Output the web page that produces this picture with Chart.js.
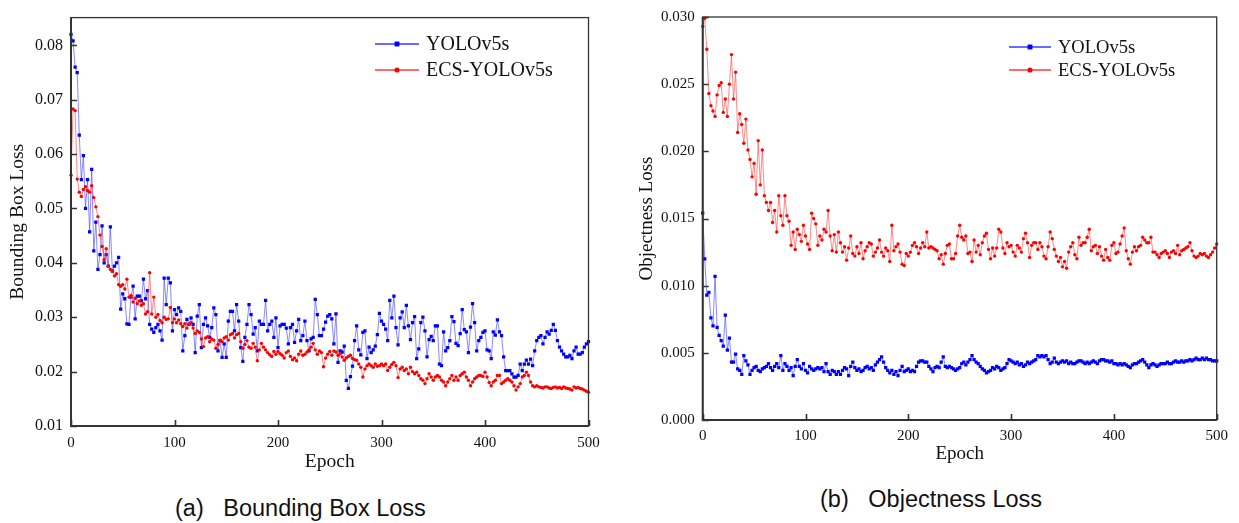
<!DOCTYPE html>
<html>
<head>
<meta charset="utf-8">
<script src="https://cdn.jsdelivr.net/npm/chart.js@4.4.1/dist/chart.umd.min.js"></script>
<style>
html,body{margin:0;padding:0;background:#fff;width:1239px;height:523px;overflow:hidden;}
.wrap{position:absolute;top:0;}
.cap{position:absolute;font-family:"Liberation Sans",Arial,sans-serif;font-size:23.5px;color:#111;white-space:pre;line-height:1;}
</style>
</head>
<body>
<div class="wrap" style="left:0;width:620px;height:475px"><canvas id="ca" width="620" height="475"></canvas></div>
<div class="wrap" style="left:620px;width:619px;height:475px"><canvas id="cb" width="619" height="475"></canvas></div>
<div class="cap" style="left:175px;top:497px">(a)   Bounding Box Loss</div>
<div class="cap" style="left:820px;top:488px">(b)   Objectness Loss</div>
<script>
// ---------- DATA (one value every EPOCH_STEP epochs, epoch 0..500) ----------
const EPOCH_STEP = 2;
const EPOCH_TICKS = [0, 100, 200, 300, 400, 500];
const BOX_TICKS = [0.01, 0.02, 0.03, 0.04, 0.05, 0.06, 0.07, 0.08];
const OBJ_TICKS = [0.000, 0.005, 0.010, 0.015, 0.020, 0.025, 0.030];
const SERIES_NAMES = ['YOLOv5s', 'ECS-YOLOv5s'];

const BOX_YOLO = [
0.0820,0.0808,0.0760,0.0750,0.0635,0.0553,0.0597,0.0500,0.0553,0.0457,
0.0572,0.0422,0.0475,0.0388,0.0415,0.0468,0.0400,0.0415,0.0394,0.0466,
0.0385,0.0394,0.0400,0.0410,0.0315,0.0343,0.0334,0.0288,0.0287,0.0337,
0.0357,0.0297,0.0339,0.0339,0.0330,0.0370,0.0334,0.0349,0.0287,0.0278,
0.0272,0.0281,0.0287,0.0275,0.0258,0.0372,0.0323,0.0372,0.0363,0.0275,
0.0314,0.0305,0.0317,0.0311,0.0238,0.0266,0.0296,0.0287,0.0299,0.0287,
0.0235,0.0302,0.0323,0.0244,0.0287,0.0299,0.0284,0.0263,0.0281,0.0317,
0.0305,0.0238,0.0257,0.0226,0.0251,0.0226,0.0293,0.0311,0.0311,0.0275,
0.0323,0.0293,0.0244,0.0219,0.0263,0.0287,0.0323,0.0305,0.0269,0.0281,
0.0238,0.0293,0.0287,0.0287,0.0331,0.0275,0.0287,0.0293,0.0263,0.0299,
0.0244,0.0284,0.0287,0.0287,0.0280,0.0251,0.0281,0.0287,0.0254,0.0275,
0.0296,0.0257,0.0266,0.0293,0.0257,0.0238,0.0260,0.0263,0.0333,0.0305,
0.0266,0.0266,0.0278,0.0291,0.0302,0.0305,0.0297,0.0251,0.0306,0.0217,
0.0238,0.0236,0.0247,0.0184,0.0169,0.0191,0.0210,0.0257,0.0284,0.0240,
0.0231,0.0272,0.0275,0.0224,0.0245,0.0235,0.0240,0.0247,0.0268,0.0307,
0.0293,0.0287,0.0278,0.0257,0.0331,0.0299,0.0339,0.0281,0.0249,0.0299,
0.0310,0.0281,0.0322,0.0284,0.0259,0.0290,0.0301,0.0224,0.0242,0.0290,
0.0300,0.0275,0.0227,0.0259,0.0265,0.0257,0.0284,0.0284,0.0214,0.0211,
0.0273,0.0238,0.0244,0.0257,0.0301,0.0292,0.0252,0.0248,0.0270,0.0314,
0.0277,0.0273,0.0235,0.0282,0.0325,0.0290,0.0238,0.0257,0.0263,0.0272,
0.0275,0.0240,0.0238,0.0224,0.0273,0.0267,0.0295,0.0273,0.0266,0.0227,
0.0202,0.0202,0.0202,0.0196,0.0190,0.0190,0.0193,0.0214,0.0202,0.0214,
0.0221,0.0214,0.0223,0.0211,0.0238,0.0257,0.0263,0.0266,0.0251,0.0263,
0.0273,0.0269,0.0276,0.0287,0.0276,0.0257,0.0245,0.0238,0.0232,0.0227,
0.0227,0.0230,0.0224,0.0238,0.0245,0.0232,0.0232,0.0235,0.0245,0.0251,
0.0255];

const BOX_ECS = [
0.0561,0.0683,0.0680,0.0554,0.0530,0.0522,0.0535,0.0540,0.0533,0.0530,
0.0542,0.0520,0.0503,0.0485,0.0451,0.0430,0.0406,0.0426,0.0394,0.0388,
0.0385,0.0376,0.0380,0.0360,0.0357,0.0360,0.0352,0.0370,0.0337,0.0340,
0.0328,0.0335,0.0325,0.0330,0.0322,0.0325,0.0306,0.0310,0.0382,0.0306,
0.0337,0.0300,0.0305,0.0294,0.0290,0.0300,0.0296,0.0297,0.0318,0.0290,
0.0297,0.0290,0.0295,0.0288,0.0283,0.0288,0.0280,0.0287,0.0290,0.0280,
0.0270,0.0275,0.0272,0.0260,0.0246,0.0262,0.0264,0.0255,0.0260,0.0258,
0.0243,0.0250,0.0258,0.0255,0.0262,0.0264,0.0258,0.0268,0.0270,0.0262,
0.0268,0.0270,0.0255,0.0243,0.0250,0.0257,0.0245,0.0243,0.0252,0.0245,
0.0220,0.0240,0.0252,0.0245,0.0240,0.0235,0.0231,0.0228,0.0237,0.0232,
0.0237,0.0233,0.0230,0.0225,0.0235,0.0238,0.0228,0.0222,0.0225,0.0220,
0.0232,0.0238,0.0230,0.0232,0.0236,0.0240,0.0245,0.0252,0.0240,0.0232,
0.0238,0.0235,0.0209,0.0225,0.0232,0.0237,0.0230,0.0238,0.0236,0.0230,
0.0233,0.0227,0.0221,0.0225,0.0228,0.0230,0.0224,0.0222,0.0221,0.0214,
0.0208,0.0190,0.0205,0.0211,0.0214,0.0211,0.0208,0.0214,0.0210,0.0211,
0.0214,0.0211,0.0214,0.0202,0.0208,0.0213,0.0217,0.0211,0.0189,0.0205,
0.0208,0.0202,0.0205,0.0196,0.0208,0.0200,0.0196,0.0199,0.0193,0.0187,
0.0184,0.0178,0.0187,0.0196,0.0190,0.0184,0.0190,0.0193,0.0190,0.0184,
0.0181,0.0174,0.0181,0.0187,0.0193,0.0184,0.0190,0.0184,0.0193,0.0196,
0.0199,0.0190,0.0184,0.0174,0.0181,0.0187,0.0190,0.0193,0.0193,0.0191,
0.0199,0.0190,0.0180,0.0174,0.0181,0.0184,0.0193,0.0193,0.0178,0.0181,
0.0184,0.0187,0.0184,0.0181,0.0174,0.0166,0.0172,0.0178,0.0190,0.0193,
0.0199,0.0193,0.0181,0.0174,0.0172,0.0174,0.0172,0.0171,0.0170,0.0172,
0.0172,0.0170,0.0169,0.0171,0.0172,0.0170,0.0171,0.0169,0.0172,0.0170,
0.0169,0.0168,0.0166,0.0172,0.0170,0.0171,0.0169,0.0168,0.0166,0.0164,
0.0162];

const OBJ_YOLO = [
0.0154,0.0120,0.0093,0.0095,0.0076,0.0070,0.0107,0.0069,0.0063,0.0059,
0.0055,0.0078,0.0052,0.0061,0.0043,0.0043,0.0049,0.0038,0.0037,0.0034,
0.0048,0.0044,0.0041,0.0034,0.0037,0.0039,0.0040,0.0037,0.0036,0.0038,
0.0039,0.0040,0.0042,0.0039,0.0037,0.0040,0.0042,0.0039,0.0048,0.0037,
0.0042,0.0040,0.0037,0.0039,0.0033,0.0040,0.0045,0.0040,0.0038,0.0042,
0.0037,0.0035,0.0040,0.0038,0.0037,0.0038,0.0039,0.0038,0.0039,0.0036,
0.0042,0.0036,0.0034,0.0037,0.0036,0.0034,0.0036,0.0034,0.0037,0.0039,
0.0038,0.0033,0.0040,0.0043,0.0039,0.0037,0.0038,0.0036,0.0037,0.0039,
0.0040,0.0038,0.0039,0.0037,0.0041,0.0043,0.0045,0.0047,0.0043,0.0039,
0.0037,0.0035,0.0037,0.0034,0.0036,0.0033,0.0037,0.0040,0.0036,0.0037,
0.0038,0.0036,0.0037,0.0036,0.0040,0.0043,0.0044,0.0044,0.0043,0.0043,
0.0040,0.0038,0.0036,0.0039,0.0040,0.0039,0.0043,0.0047,0.0040,0.0039,
0.0040,0.0039,0.0038,0.0037,0.0038,0.0039,0.0042,0.0043,0.0041,0.0043,
0.0045,0.0048,0.0045,0.0043,0.0042,0.0040,0.0038,0.0037,0.0035,0.0036,
0.0037,0.0039,0.0038,0.0040,0.0039,0.0037,0.0038,0.0039,0.0042,0.0045,
0.0044,0.0043,0.0042,0.0043,0.0041,0.0042,0.0040,0.0041,0.0043,0.0042,
0.0043,0.0044,0.0045,0.0048,0.0047,0.0048,0.0047,0.0048,0.0045,0.0042,
0.0043,0.0046,0.0043,0.0042,0.0043,0.0044,0.0043,0.0044,0.0042,0.0043,
0.0042,0.0042,0.0043,0.0044,0.0044,0.0043,0.0042,0.0043,0.0042,0.0043,
0.0044,0.0043,0.0042,0.0044,0.0045,0.0045,0.0044,0.0044,0.0043,0.0044,
0.0042,0.0042,0.0041,0.0042,0.0041,0.0042,0.0041,0.0040,0.0039,0.0041,
0.0042,0.0042,0.0043,0.0044,0.0045,0.0043,0.0041,0.0039,0.0041,0.0042,
0.0041,0.0040,0.0041,0.0042,0.0042,0.0042,0.0043,0.0042,0.0042,0.0043,
0.0044,0.0043,0.0043,0.0044,0.0043,0.0044,0.0044,0.0045,0.0044,0.0045,
0.0046,0.0045,0.0045,0.0046,0.0045,0.0046,0.0045,0.0045,0.0044,0.0044,
0.0044];

const OBJ_ECS = [
0.0293,0.0299,0.0276,0.0243,0.0234,0.0230,0.0226,0.0242,0.0249,0.0251,
0.0229,0.0239,0.0226,0.0250,0.0272,0.0239,0.0259,0.0214,0.0228,0.0220,
0.0206,0.0224,0.0201,0.0194,0.0181,0.0191,0.0168,0.0208,0.0175,0.0201,
0.0167,0.0162,0.0156,0.0162,0.0147,0.0156,0.0140,0.0167,0.0152,0.0145,
0.0167,0.0152,0.0148,0.0130,0.0140,0.0127,0.0142,0.0138,0.0133,0.0145,
0.0137,0.0131,0.0127,0.0154,0.0150,0.0146,0.0130,0.0137,0.0134,0.0142,
0.0140,0.0156,0.0137,0.0126,0.0138,0.0125,0.0140,0.0132,0.0125,0.0129,
0.0119,0.0128,0.0137,0.0124,0.0122,0.0129,0.0124,0.0132,0.0120,0.0126,
0.0129,0.0132,0.0131,0.0122,0.0125,0.0128,0.0134,0.0125,0.0122,0.0128,
0.0126,0.0118,0.0145,0.0126,0.0129,0.0131,0.0125,0.0116,0.0115,0.0124,
0.0122,0.0125,0.0130,0.0132,0.0129,0.0124,0.0128,0.0132,0.0129,0.0140,
0.0128,0.0129,0.0128,0.0127,0.0126,0.0120,0.0123,0.0116,0.0124,0.0130,
0.0131,0.0120,0.0120,0.0124,0.0137,0.0145,0.0136,0.0134,0.0137,0.0124,
0.0125,0.0118,0.0134,0.0125,0.0130,0.0123,0.0132,0.0137,0.0139,0.0127,
0.0120,0.0128,0.0122,0.0128,0.0142,0.0140,0.0128,0.0124,0.0132,0.0129,
0.0130,0.0125,0.0122,0.0130,0.0128,0.0125,0.0135,0.0139,0.0132,0.0121,
0.0130,0.0132,0.0132,0.0127,0.0132,0.0129,0.0122,0.0120,0.0129,0.0140,
0.0135,0.0127,0.0122,0.0118,0.0121,0.0114,0.0118,0.0113,0.0125,0.0129,
0.0132,0.0123,0.0120,0.0136,0.0130,0.0132,0.0132,0.0136,0.0142,0.0126,
0.0129,0.0130,0.0124,0.0129,0.0122,0.0119,0.0127,0.0121,0.0119,0.0130,
0.0132,0.0124,0.0125,0.0131,0.0137,0.0143,0.0126,0.0120,0.0116,0.0125,
0.0129,0.0126,0.0129,0.0130,0.0136,0.0134,0.0132,0.0132,0.0136,0.0125,
0.0125,0.0123,0.0121,0.0124,0.0125,0.0126,0.0124,0.0121,0.0125,0.0126,
0.0124,0.0130,0.0123,0.0126,0.0127,0.0128,0.0129,0.0132,0.0126,0.0122,
0.0121,0.0122,0.0124,0.0123,0.0124,0.0122,0.0121,0.0123,0.0125,0.0128,
0.0131];

// ---------- RENDERING ----------
const SERIF = '"Liberation Serif", "Times New Roman", serif';
const TXT = '#111';

function toPoints(arr) { return arr.map((v, i) => ({ x: i * EPOCH_STEP, y: v })); }

function makeDatasets(yolo, ecs) {
  return [
    { label: SERIES_NAMES[0], data: toPoints(yolo),
      borderColor: 'rgba(70,70,255,0.8)', borderWidth: 0.8,
      pointStyle: 'rect', pointRadius: 2.3, pointBorderWidth: 0,
      pointBackgroundColor: '#0000ff', backgroundColor: '#0000ff',
      legendLine: '#3a3aff', clip: 4, order: 2 },
    { label: SERIES_NAMES[1], data: toPoints(ecs),
      borderColor: 'rgba(255,70,70,0.8)', borderWidth: 0.8,
      pointStyle: 'circle', pointRadius: 1.7, pointBorderWidth: 0,
      pointBackgroundColor: '#ff0000', backgroundColor: '#ff0000',
      legendLine: '#ff3a3a', clip: 4, order: 1 }
  ];
}

const framePlugin = {
  id: 'frame',
  afterDatasetsDraw(chart, args, o) {
    const { ctx, chartArea: a, scales } = chart;
    ctx.save();
    ctx.strokeStyle = '#333';
    ctx.lineWidth = 1.3;
    ctx.strokeRect(a.left, a.top, a.right - a.left, a.bottom - a.top);
    ctx.lineWidth = 2;
    ctx.beginPath();
    ctx.moveTo(a.left, a.top); ctx.lineTo(a.left, a.bottom); ctx.lineTo(a.right, a.bottom);
    ctx.stroke();
    ctx.lineWidth = 1.6;
    ctx.beginPath();
    scales.y.ticks.forEach(t => {
      const y = Math.round(scales.y.getPixelForValue(t.value)) + 0.5;
      ctx.moveTo(a.left, y); ctx.lineTo(a.left + o.tick, y);
    });
    scales.x.ticks.forEach(t => {
      const x = Math.round(scales.x.getPixelForValue(t.value)) + 0.5;
      ctx.moveTo(x, a.bottom); ctx.lineTo(x, a.bottom - o.tick);
    });
    ctx.stroke();
    // legend
    const L = o.legend;
    ctx.font = L.size + 'px ' + SERIF;
    ctx.textBaseline = 'middle';
    ctx.textAlign = 'left';
    chart.data.datasets.forEach((ds, i) => {
      const y = L.y[i];
      ctx.strokeStyle = ds.legendLine;
      ctx.lineWidth = 1.4;
      ctx.beginPath(); ctx.moveTo(L.x, y); ctx.lineTo(L.x + L.len, y); ctx.stroke();
      ctx.fillStyle = ds.pointBackgroundColor;
      Chart.helpers.drawPoint(ctx, { pointStyle: ds.pointStyle, radius: ds.pointRadius * 1.5, rotation: 0, borderWidth: 0 }, L.x + L.len / 2, y);
      ctx.fillStyle = TXT;
      ctx.fillText(ds.label, L.x + L.len + 7, y + 1);
    });
    ctx.restore();
  }
};

function makeChart(id, cfg) {
  return new Chart(document.getElementById(id), {
    type: 'line',
    data: { datasets: makeDatasets(cfg.yolo, cfg.ecs) },
    plugins: [framePlugin],
    options: {
      responsive: false, animation: false, devicePixelRatio: 1,
      layout: { padding: cfg.pad },
      plugins: { legend: { display: false }, tooltip: { enabled: false },
                 frame: { tick: 6, legend: cfg.legend } },
      scales: {
        x: {
          type: 'linear', min: 0, max: 500,
          afterBuildTicks: s => { s.ticks = EPOCH_TICKS.map(v => ({ value: v })); },
          afterFit: s => { s.height = cfg.xH; },
          grid: { display: false, drawTicks: false }, border: { display: false },
          ticks: { font: { family: SERIF, size: cfg.xTickSize }, color: TXT, padding: cfg.xTickPad, maxRotation: 0,
                   callback: v => String(v) },
          title: { display: true, text: 'Epoch', color: TXT, font: { family: SERIF, size: cfg.titleSize },
                   padding: { top: 0, bottom: cfg.xTitlePad } }
        },
        y: {
          type: 'linear', min: cfg.yMin, max: cfg.yMax,
          afterBuildTicks: s => { s.ticks = cfg.yTicks.map(v => ({ value: v })); },
          afterFit: s => { s.width = cfg.yW; },
          grid: { display: false, drawTicks: false }, border: { display: false },
          ticks: { font: { family: SERIF, size: cfg.yTickSize }, color: TXT, padding: cfg.yTickPad,
                   callback: v => v.toFixed(cfg.dec) },
          title: { display: true, text: cfg.yTitle, color: TXT, font: { family: SERIF, size: cfg.titleSize },
                   padding: { top: cfg.yTitlePad, bottom: 0 } }
        }
      }
    }
  });
}

makeChart('ca', {
  yolo: BOX_YOLO, ecs: BOX_ECS, yMin: 0.01, yMax: 0.0851, yTicks: BOX_TICKS, dec: 2,
  yTitle: 'Bounding Box Loss', pad: { left: 0, right: 31.5, top: 13, bottom: 0 },
  xH: 49, yW: 71, xTickSize: 15, yTickSize: 16, titleSize: 19.5, xTickPad: 8, yTickPad: 8,
  xTitlePad: 1.5, yTitlePad: 6,
  legend: { x: 375, len: 44, y: [44, 70], size: 20 }
});

makeChart('cb', {
  yolo: OBJ_YOLO, ecs: OBJ_ECS, yMin: 0, yMax: 0.030, yTicks: OBJ_TICKS, dec: 3,
  yTitle: 'Objectness Loss', pad: { left: 0, right: 22.3, top: 13, bottom: 0 },
  xH: 55, yW: 82.7, xTickSize: 15, yTickSize: 15, titleSize: 19, xTickPad: 7, yTickPad: 8,
  xTitlePad: 10, yTitlePad: 16,
  legend: { x: 389, len: 42, y: [47, 70], size: 18.5 }
});
</script>
</body>
</html>
